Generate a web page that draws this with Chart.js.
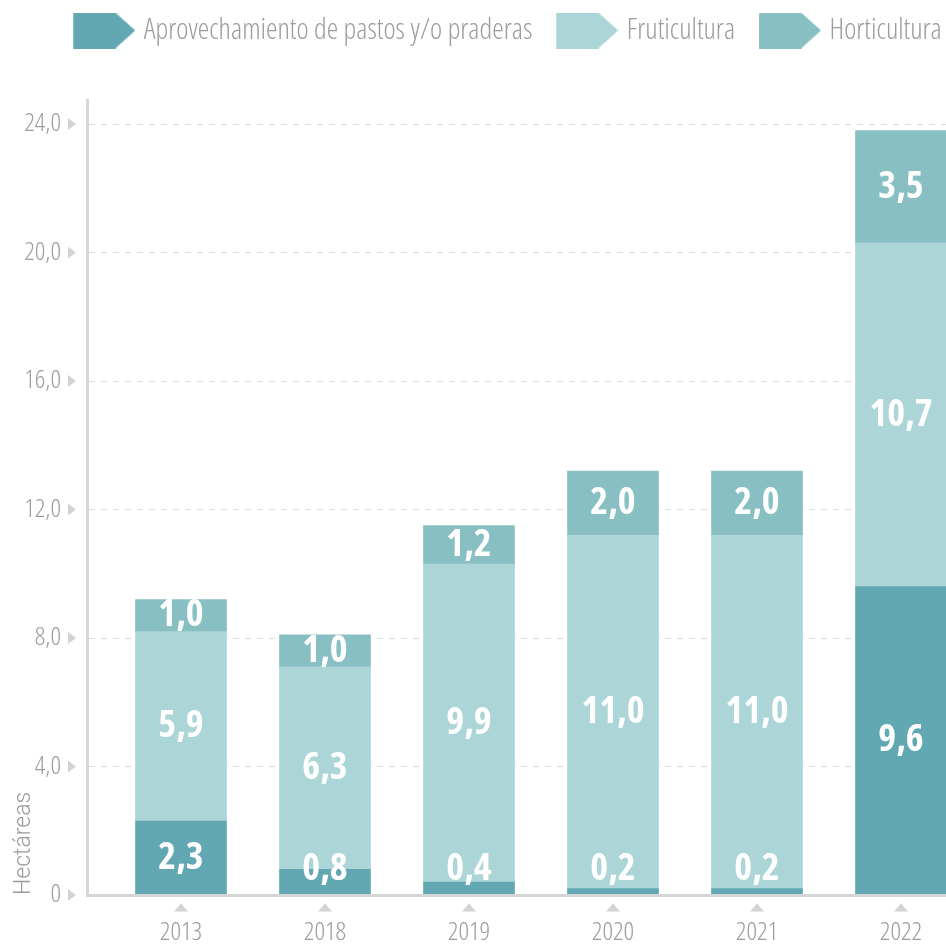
<!DOCTYPE html>
<html lang="es">
<head>
<meta charset="utf-8">
<script src="https://cdn.jsdelivr.net/npm/chart.js@4.4.1/dist/chart.umd.min.js"></script>
<style>
  html, body { margin: 0; padding: 0; background: #fff; overflow: hidden; }
  #wrap { width: 946px; height: 947px; overflow: hidden; }
</style>
</head>
<body>
<div id="wrap"><canvas id="chart"></canvas></div>
<script>
// ─── Datos ────────────────────────────────────────────────────────────────────
const years = ["2013", "2018", "2019", "2020", "2021", "2022"];
const seriesNames = ["Aprovechamiento de pastos y/o praderas", "Fruticultura", "Horticultura"];
const pastos = [2.3, 0.8, 0.4, 0.2, 0.2, 9.6];
const fruticultura = [5.9, 6.3, 9.9, 11.0, 11.0, 10.7];
const horticultura = [1.0, 1.0, 1.2, 2.0, 2.0, 3.5];
const yTickValues = [0, 4, 8, 12, 16, 20, 24];
const yMax = 24.75;

const COLORS = {
  pastos: "#62a8b2",
  fruti: "#acd5d7",
  horti: "#88bfc3",
  text: "#9c9c9c",
  axis: "#d6d6d6",
  grid: "#dcdcdc",
  marker: "#d3d3d3",
};

const LEGEND_SIZE = 29;
const LIGHT = { family: "'Open Sans', sans-serif", weight: "300 condensed" };
const LEGEND_FONT = { ...LIGHT, size: LEGEND_SIZE };
const TICK_FONT = { ...LIGHT, size: 26 };
const TITLE_FONT = { family: "Roboto, sans-serif", weight: "300", size: 23 };
const LABEL_FONT = "bold condensed 38px 'Open Sans', sans-serif";

const fmt = (v) => v.toFixed(1).replace(".", ",");

// ─── Geometría ────────────────────────────────────────────────────────────────
const AXIS_LEFT = 87;      // ancho del eje Y
const AXIS_BOTTOM = 52;    // alto del eje X
const LEGEND_H = 100;
const SLOT = 144;          // px por categoría
const FIRST_CENTER = 181;
const BOX_W = 64;
const LEGEND_PAD = 16;

// el gráfico original es más ancho que la ventana: se recorta a la derecha
const meas = document.createElement("canvas").getContext("2d");
meas.font = "300 condensed " + LEGEND_SIZE + "px 'Open Sans', sans-serif";
const legendLine = seriesNames.reduce(
  (s, n) => s + BOX_W + LEGEND_SIZE / 2 + meas.measureText(n).width + LEGEND_PAD, 0);
const W = Math.round(130 + legendLine - LEGEND_PAD);
const H = 947;

const xMin = -(FIRST_CENTER - AXIS_LEFT) / SLOT;
const xMax = xMin + (W - AXIS_LEFT) / SLOT;

function legendShape(color) {
  const c = document.createElement("canvas");
  c.width = 140;
  c.height = 36;
  const g = c.getContext("2d");
  g.fillStyle = color;
  g.beginPath();
  g.moveTo(46, 0);
  g.lineTo(88, 0);
  g.lineTo(108, 18);
  g.lineTo(88, 36);
  g.lineTo(46, 36);
  g.closePath();
  g.fill();
  return c;
}

// ─── Plugins ──────────────────────────────────────────────────────────────────
const legendHeight = {
  id: "legendHeight",
  beforeUpdate(chart) {
    const legend = chart.legend;
    if (!legend || legend.fitPatched) return;
    const fit = legend.fit;
    legend.fit = function () {
      fit.call(this);
      this.height = LEGEND_H;
    };
    legend.fitPatched = true;
  },
};

const barLabels = {
  id: "barLabels",
  afterDatasetsDraw(chart) {
    const { ctx, chartArea } = chart;
    ctx.save();
    ctx.font = LABEL_FONT;
    ctx.fillStyle = "#ffffff";
    ctx.textAlign = "center";
    ctx.textBaseline = "middle";
    chart.data.datasets.forEach((ds, di) => {
      chart.getDatasetMeta(di).data.forEach((bar, i) => {
        const y = Math.min((bar.y + bar.base) / 2, chartArea.bottom - 26);
        ctx.fillText(fmt(ds.data[i].y), bar.x, y);
      });
    });
    ctx.restore();
  },
};

const tickMarkers = {
  id: "tickMarkers",
  afterDraw(chart) {
    const { ctx, chartArea, scales: { x, y } } = chart;
    ctx.save();
    ctx.fillStyle = COLORS.marker;
    const lx = chartArea.left - 19;
    y.ticks.forEach((t) => {
      const py = y.getPixelForValue(t.value);
      ctx.beginPath();
      ctx.moveTo(lx, py - 6);
      ctx.lineTo(lx + 8, py);
      ctx.lineTo(lx, py + 6);
      ctx.closePath();
      ctx.fill();
    });
    const top = chartArea.bottom + 8.5;
    x.ticks.forEach((t) => {
      const px = x.getPixelForValue(t.value);
      ctx.beginPath();
      ctx.moveTo(px - 7, top + 8);
      ctx.lineTo(px, top);
      ctx.lineTo(px + 7, top + 8);
      ctx.closePath();
      ctx.fill();
    });
    ctx.restore();
  },
};

// ─── Gráfico ──────────────────────────────────────────────────────────────────
const canvas = document.getElementById("chart");
canvas.width = W;
canvas.height = H;
canvas.style.width = W + "px";
canvas.style.height = H + "px";

const toPoints = (arr) => years.map((_, i) => ({ x: i, y: arr[i] }));

new Chart(canvas, {
  type: "bar",
  data: {
    datasets: [
      { label: seriesNames[0], data: toPoints(pastos), backgroundColor: COLORS.pastos },
      { label: seriesNames[1], data: toPoints(fruticultura), backgroundColor: COLORS.fruti },
      { label: seriesNames[2], data: toPoints(horticultura), backgroundColor: COLORS.horti },
    ],
  },
  options: {
    responsive: false,
    animation: false,
    devicePixelRatio: 1,
    layout: { padding: 0 },
    datasets: { bar: { barThickness: 91, borderWidth: 0 } },
    scales: {
      x: {
        type: "linear",
        stacked: true,
        offset: false,
        min: xMin,
        max: xMax,
        grid: { display: false },
        border: { color: COLORS.axis, width: 3, z: 1 },
        afterBuildTicks: (s) => { s.ticks = years.map((_, i) => ({ value: i })); },
        ticks: {
          callback: (v) => years[v],
          color: COLORS.text,
          font: TICK_FONT,
          padding: 14,
          maxRotation: 0,
          autoSkip: false,
        },
        afterFit: (s) => { s.height = AXIS_BOTTOM; s.paddingLeft = 0; s.paddingRight = 0; },
      },
      y: {
        stacked: true,
        min: 0,
        max: yMax,
        afterBuildTicks: (s) => { s.ticks = yTickValues.map((v) => ({ value: v })); },
        ticks: {
          callback: (v) => (v === 0 ? "0" : fmt(v)),
          color: COLORS.text,
          font: TICK_FONT,
          padding: 26,
        },
        grid: { color: COLORS.grid, lineWidth: 1, drawTicks: false },
        border: { color: COLORS.axis, width: 3, dash: [6, 6] },
        title: {
          display: true,
          text: "Hectáreas",
          align: "start",
          color: COLORS.text,
          font: TITLE_FONT,
          padding: { top: 10 },
        },
        afterFit: (s) => { s.width = AXIS_LEFT; },
      },
    },
    plugins: {
      legend: {
        position: "top",
        align: "center",
        labels: {
          usePointStyle: true,
          pointStyleWidth: BOX_W,
          padding: LEGEND_PAD,
          color: COLORS.text,
          font: LEGEND_FONT,
          generateLabels: (chart) => chart.data.datasets.map((ds, i) => ({
            text: ds.label,
            pointStyle: legendShape(ds.backgroundColor),
            fillStyle: ds.backgroundColor,
            strokeStyle: ds.backgroundColor,
            lineWidth: 0,
            hidden: false,
            datasetIndex: i,
            fontColor: COLORS.text,
          })),
        },
      },
      tooltip: { enabled: false },
    },
  },
  plugins: [legendHeight, barLabels, tickMarkers],
});
</script>
</body>
</html>
